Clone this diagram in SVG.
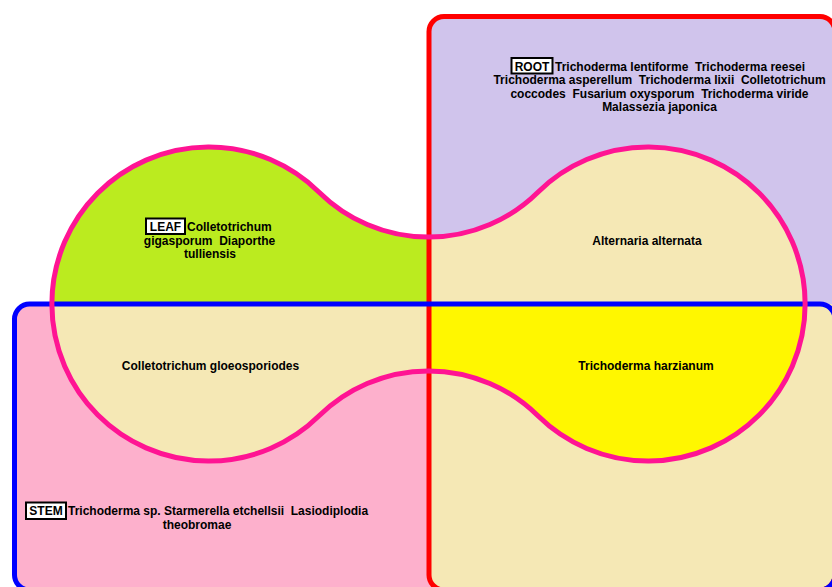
<svg xmlns="http://www.w3.org/2000/svg" width="832" height="587" viewBox="0 0 832 587">
<style>
  text { font-family: "Liberation Sans", Arial, sans-serif; font-size: 12px; font-weight: bold; fill: #000; white-space: pre; }
  .mid { text-anchor: middle; }
  .tag { fill: #fff; stroke: #000; stroke-width: 2; }
  .lav { fill: #D0C4EC; }
  .pink { fill: #FDB0CC; }
  .beige { fill: #F5E8B5; }
  .green { fill: #BBEB1F; }
  .yellow { fill: #FFF700; }
</style>
<defs>
  <path id="peanut" d="M319.1 192.2 A155.7 155.7 0 0 0 537.9 192.2 A157 157 0 1 1 537.9 415.8 A155.7 155.7 0 0 0 319.1 415.8 A157 157 0 1 1 319.1 192.2 Z"/>
  <clipPath id="clipRed"><rect x="429" y="16.5" width="406" height="573.5" rx="15"/></clipPath>
  <clipPath id="clipBlue"><rect x="14.5" y="304" width="820.5" height="286" rx="15"/></clipPath>
  <clipPath id="clipRB"><path d="M429 304 H835 V590 H444 A15 15 0 0 1 429 575 Z"/></clipPath>
</defs>
<rect width="832" height="587" fill="#fff"/>
<g id="regions">
  <rect class="lav" x="429" y="16.5" width="406" height="573.5" rx="15"/>
  <rect class="pink" x="14.5" y="304" width="820.5" height="286" rx="15"/>
  <path class="beige" d="M429 304 H835 V590 H444 A15 15 0 0 1 429 575 Z"/>
  <use href="#peanut" class="green"/>
  <use href="#peanut" class="beige" clip-path="url(#clipRed)"/>
  <use href="#peanut" class="beige" clip-path="url(#clipBlue)"/>
  <use href="#peanut" class="yellow" clip-path="url(#clipRB)"/>
</g>
<g id="root">
  <rect x="429" y="16.5" width="406" height="573.5" rx="15" fill="none" stroke="#FF0000" stroke-width="5"/>
  <rect class="tag" x="511.5" y="58" width="41" height="15.5"/>
  <text class="mid" x="532" y="70.5">ROOT</text>
  <text x="555" y="70.5">Trichoderma lentiforme  Trichoderma reesei</text>
  <text class="mid" x="659.5" y="84">Trichoderma asperellum  Trichoderma lixii  Colletotrichum</text>
  <text class="mid" x="659.5" y="97.5">coccodes  Fusarium oxysporum  Trichoderma viride</text>
  <text class="mid" x="659.5" y="111">Malassezia japonica</text>
</g>
<g id="stem">
  <rect x="14.5" y="304" width="820.5" height="286" rx="15" fill="none" stroke="#0000FF" stroke-width="5"/>
  <rect class="tag" x="26" y="502.5" width="40" height="16.5"/>
  <text class="mid" x="46" y="515">STEM</text>
  <text x="68" y="515">Trichoderma sp. Starmerella etchellsii  Lasiodiplodia</text>
  <text class="mid" x="197" y="528.5">theobromae</text>
</g>
<g id="leaf">
  <use href="#peanut" fill="none" stroke="#FF1493" stroke-width="5"/>
  <rect class="tag" x="146" y="218.5" width="39" height="15.5"/>
  <text class="mid" x="165.5" y="231">LEAF</text>
  <text x="187" y="231">Colletotrichum</text>
  <text class="mid" x="209.5" y="244.5">gigasporum  Diaporthe</text>
  <text class="mid" x="210" y="258">tulliensis</text>
</g>
<g id="overlaps">
  <text class="mid" x="647" y="245">Alternaria alternata</text>
  <text class="mid" x="646" y="370">Trichoderma harzianum</text>
  <text class="mid" x="210.5" y="370">Colletotrichum gloeosporiodes</text>
</g>
<g id="connectors"/>
</svg>
